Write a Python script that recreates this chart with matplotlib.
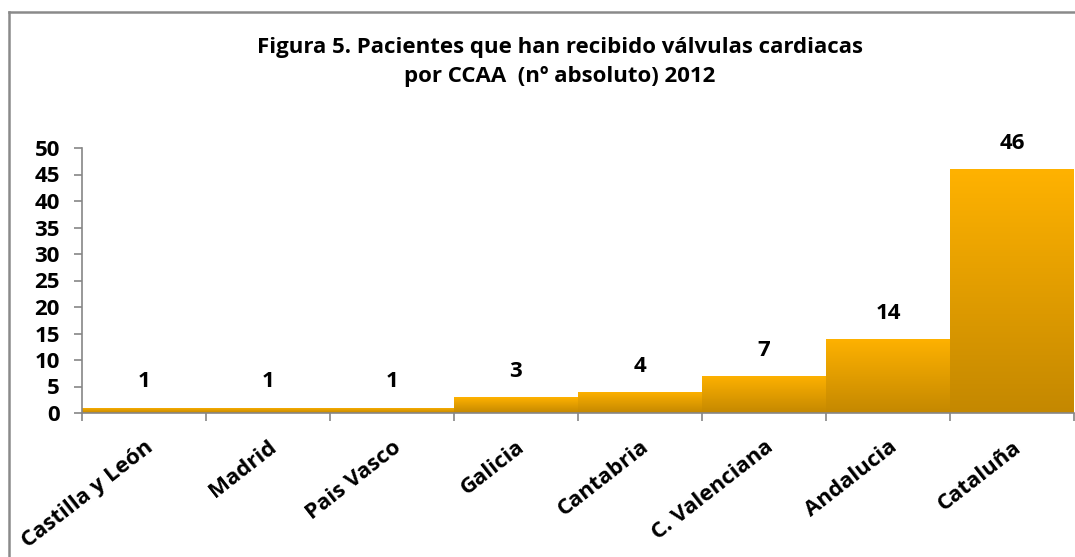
import matplotlib
matplotlib.use("Agg")
import matplotlib.pyplot as plt
import numpy as np
from matplotlib.colors import LinearSegmentedColormap
from matplotlib.lines import Line2D

categories = ["Castilla y León", "Madrid", "Pais Vasco", "Galicia", "Cantabria",
              "C. Valenciana", "Andalucia", "Cataluña"]
values = [1, 1, 1, 3, 4, 7, 14, 46]
yticks = [0, 5, 10, 15, 20, 25, 30, 35, 40, 45, 50]
title = "Figura 5. Pacientes que han recibido válvulas cardiacas\npor CCAA  (nº absoluto) 2012"

plt.rcParams['font.family'] = ['Open Sans', 'DejaVu Sans']
plt.rcParams['font.weight'] = 'bold'

FS = 16
W, H = 1075, 557
fig = plt.figure(figsize=(W / 100, H / 100), dpi=100)
ax = fig.add_axes([82 / W, 1 - 413 / H, 992 / W, (413 - 148) / H])

x = np.arange(len(categories))
bars = ax.bar(x, values, width=1.0, color="#E8A000", edgecolor="none", zorder=2)

cmap = LinearSegmentedColormap.from_list("g", ["#C48800", "#FFB200"])
grad = np.linspace(0, 1, 256).reshape(-1, 1)
for b in bars:
    x0, y0 = b.get_x(), b.get_y()
    w, h = b.get_width(), b.get_height()
    im = ax.imshow(grad, cmap=cmap, aspect="auto", origin="lower",
                   extent=[x0, x0 + w, y0, y0 + h], zorder=3, interpolation="bilinear")
    im.set_clip_path(b)

for xi, v in zip(x, values):
    ax.annotate(str(v), (xi, v), xytext=(0, 11), textcoords="offset points",
                ha="center", va="bottom", fontsize=FS, fontweight="bold", color="black")

ax.set_xlim(-0.5, len(categories) - 0.5)
ax.set_ylim(0, 50)
ax.set_yticks(yticks)
ax.set_yticklabels([str(t) for t in yticks], fontsize=FS, fontweight="bold")
ax.set_xticks(x)
ax.set_xticklabels(categories, rotation=38, ha="right", va="top",
                   rotation_mode="anchor", fontsize=FS, fontweight="bold")
ax.set_xticks(np.arange(len(categories) + 1) - 0.5, minor=True)
ax.tick_params(axis="x", which="major", length=0, pad=17)
ax.tick_params(axis="x", which="minor", length=6, color="#868686", width=1.2, direction="out")
ax.tick_params(axis="y", length=6, color="#868686", width=1.2, direction="out", pad=10)
for s in ["top", "right"]:
    ax.spines[s].set_visible(False)
for s in ["left", "bottom"]:
    ax.spines[s].set_color("#868686")
    ax.spines[s].set_linewidth(1.2)
    ax.spines[s].set_zorder(4)
ax.patch.set_alpha(0)

fig.text(560 / W, 1 - 62 / H, title, ha="center", va="center", fontsize=FS,
         fontweight="bold", linespacing=1.5)

fig.add_artist(Line2D([8.5 / W, 8.5 / W], [0, 1 - 11.5 / H], color="#8a8a8a", lw=1.8,
                      transform=fig.transFigure))
fig.add_artist(Line2D([8.5 / W, 1], [1 - 11.5 / H, 1 - 11.5 / H], color="#8a8a8a", lw=1.8,
                      transform=fig.transFigure))

fig.savefig("out.png", dpi=100)
